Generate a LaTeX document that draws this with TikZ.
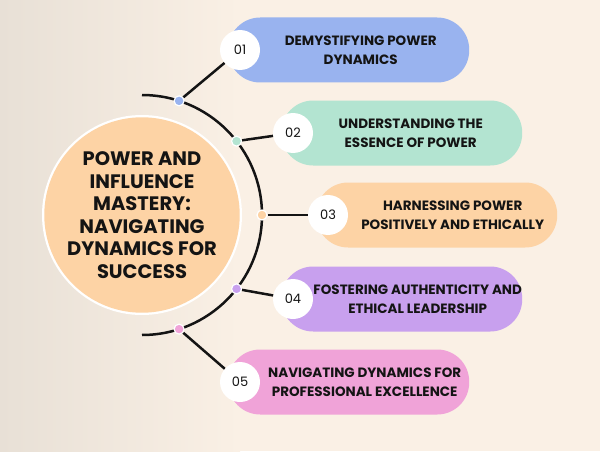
\documentclass[tikz,border=0pt]{standalone}
\usepackage{fontspec}
\setmainfont{Poppins}
\definecolor{bgcream}{HTML}{FAF0E5}
\definecolor{bggray}{HTML}{E8E0D6}
\definecolor{ink}{HTML}{141414}
\definecolor{peach}{HTML}{FDD3A5}
\definecolor{blueA}{HTML}{99B3EF}
\definecolor{mintA}{HTML}{B3E4D1}
\definecolor{lavA}{HTML}{C8A0EE}
\definecolor{pinkA}{HTML}{F0A3D8}

\begin{document}
\begin{tikzpicture}[x=1pt,y=1pt,
    pill/.style={fill=#1, rounded corners=32pt, minimum width=241pt, minimum height=65pt, anchor=west, inner sep=0pt},
    pilltext/.style={align=center, font=\bfseries\fontsize{13.5}{19}\selectfont, text=ink},
    num/.style={circle, fill=white, minimum size=40pt, inner sep=0pt, font=\fontsize{13}{13}\selectfont, text=ink},
    dot/.style={circle, fill=#1, draw=white, line width=1.2pt, minimum size=10pt, inner sep=0pt},
    conn/.style={draw=ink, line width=2.5pt}]
    \useasboundingbox (0,0) rectangle (600,451);
    \fill[bgcream] (0,0) rectangle (600,451);
    \shade[left color=bggray, right color=bgcream] (0,0) rectangle (240,451);
    \coordinate (c) at (142,236);
    \fill[white] (c) circle (100);
    \node[circle, fill=peach, minimum size=178pt, align=center, inner sep=0pt,
          font=\bfseries\fontsize{19.5}{22.5}\selectfont, text=ink] (title) at (c)
          {POWER AND\\INFLUENCE\\MASTERY:\\NAVIGATING\\DYNAMICS FOR\\SUCCESS};
    \draw[conn] ([shift={(90:120)}]c) arc (90:-90:120);
    \node[dot=blueA] (d1) at ([shift={(72:120)}]c) {};
    \node[dot=mintA] (d2) at ([shift={(38:120)}]c) {};
    \node[dot=peach] (d3) at ([shift={(0:120)}]c) {};
    \node[dot=lavA] (d4) at ([shift={(-38:120)}]c) {};
    \node[dot=pinkA] (d5) at ([shift={(-72:120)}]c) {};
    \coordinate (m1) at (240,401);
    \coordinate (m2) at (293,318);
    \coordinate (m3) at (328,236);
    \coordinate (m4) at (293,152);
    \coordinate (m5) at (240,69);
    \node[pill=blueA] (p1) at ([xshift=-12pt]m1) {};
    \node[pill=mintA] (p2) at ([xshift=-12pt]m2) {};
    \node[pill=peach] (p3) at ([xshift=-12pt]m3) {};
    \node[pill=lavA] (p4) at ([xshift=-12pt]m4) {};
    \node[pill=pinkA] (p5) at ([xshift=-12pt]m5) {};
    \node[pilltext] (t1) at ([xshift=12pt]p1.center) {DEMYSTIFYING POWER\\DYNAMICS};
    \node[pilltext] (t2) at ([xshift=9pt]p2.center) {UNDERSTANDING THE\\ESSENCE OF POWER};
    \node[pilltext] (t3) at ([xshift=16pt]p3.center) {HARNESSING POWER\\POSITIVELY AND ETHICALLY};
    \node[pilltext] (t4) at ([xshift=16pt]p4.center) {FOSTERING AUTHENTICITY AND\\ETHICAL LEADERSHIP};
    \node[pilltext] (t5) at ([xshift=16pt]p5.center) {NAVIGATING DYNAMICS FOR\\PROFESSIONAL EXCELLENCE};
    \node[num] (n1) at (m1) {01};
    \node[num] (n2) at (m2) {02};
    \node[num] (n3) at (m3) {03};
    \node[num] (n4) at (m4) {04};
    \node[num] (n5) at (m5) {05};
    \draw[conn] (d1) -- (n1);
    \draw[conn] (d2) -- (n2);
    \draw[conn] (d3) -- (n3);
    \draw[conn] (d4) -- (n4);
    \draw[conn] (d5) -- (n5);
\end{tikzpicture}
\end{document}
